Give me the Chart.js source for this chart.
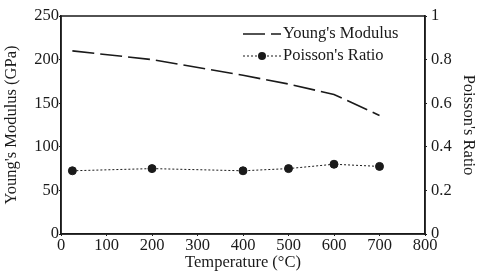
<!DOCTYPE html>
<html>
<head>
<meta charset="utf-8">
<script src="https://cdn.jsdelivr.net/npm/chart.js@4"></script>
<style>
  html, body { margin: 0; padding: 0; background: #fff; }
  #wrap { width: 478px; height: 275px; }
</style>
</head>
<body>
<div id="wrap"><canvas id="chart" width="478" height="275"></canvas></div>
<script>
// values
const temps = [25, 200, 400, 500, 600, 700];
const youngs = [210, 200, 182, 172, 160, 136];
const poisson = [0.29, 0.30, 0.29, 0.30, 0.32, 0.31];
const xTicks = [0, 100, 200, 300, 400, 500, 600, 700, 800];

const ink = '#1a1a1a';
const serif = '"Liberation Serif", "DejaVu Serif", serif';

// legend drawn inside the plot, top right
const innerLegend = {
  id: 'innerLegend',
  afterDatasetsDraw(chart) {
    const ctx = chart.ctx;
    const a = chart.chartArea;
    ctx.save();
    ctx.font = '16.5px ' + serif;
    ctx.fillStyle = ink;
    ctx.textBaseline = 'middle';
    chart.data.datasets.forEach((ds, i) => {
      const y = a.top + 18 + i * 22;
      const x0 = a.right - 182;
      ctx.strokeStyle = ink;
      ctx.lineWidth = ds.borderWidth;
      ctx.setLineDash(ds.borderDash || []);
      ctx.beginPath();
      ctx.moveTo(x0, y);
      ctx.lineTo(x0 + 38, y);
      ctx.stroke();
      ctx.setLineDash([]);
      if (ds.pointRadius > 0) {
        ctx.beginPath();
        ctx.arc(x0 + 19, y, ds.pointRadius, 0, Math.PI * 2);
        ctx.fill();
      }
      ctx.fillText(ds.label, x0 + 40, y);
    });
    // frame around the plot
    ctx.strokeStyle = ink;
    ctx.lineWidth = 1.5;
    ctx.strokeRect(a.left, a.top, a.right - a.left, a.bottom - a.top);
    ctx.restore();
  }
};

new Chart(document.getElementById('chart'), {
  type: 'line',
  data: {
    datasets: [
      {
        label: "Young's Modulus",
        data: temps.map((t, i) => ({ x: t, y: youngs[i] })),
        yAxisID: 'y',
        borderColor: ink,
        borderWidth: 1.6,
        borderDash: [22, 6],
        pointRadius: 0,
        tension: 0
      },
      {
        label: "Poisson's Ratio",
        data: temps.map((t, i) => ({ x: t, y: poisson[i] })),
        yAxisID: 'y1',
        borderColor: ink,
        backgroundColor: ink,
        borderWidth: 1,
        borderDash: [2, 2],
        pointRadius: 4,
        pointBackgroundColor: ink,
        tension: 0
      }
    ]
  },
  plugins: [innerLegend],
  options: {
    responsive: false,
    animation: false,
    layout: { padding: { top: 16, left: 0, right: 0, bottom: 0 } },
    plugins: { legend: { display: false }, tooltip: { enabled: false } },
    scales: {
      x: {
        type: 'linear',
        min: 0,
        max: 800,
        afterBuildTicks: s => { s.ticks = xTicks.map(v => ({ value: v })); },
        afterFit: s => { s.height = 41; },
        grid: { drawOnChartArea: false, color: ink, tickLength: 2 },
        border: { color: ink, width: 1.5 },
        ticks: { color: ink, font: { family: serif, size: 16.5 }, padding: 0, maxRotation: 0 },
        title: { display: true, text: 'Temperature (°C)', color: ink, font: { family: serif, size: 16.5 }, padding: { top: 0, bottom: 2 } }
      },
      y: {
        position: 'left',
        min: 0,
        max: 250,
        afterFit: s => { s.width = 61; },
        grid: { drawOnChartArea: false, color: ink, tickLength: 2 },
        border: { color: ink, width: 1.5 },
        ticks: { stepSize: 50, color: ink, font: { family: serif, size: 16.5 }, padding: 0 },
        title: { display: true, text: "Young's Modulus (GPa)", color: ink, font: { family: serif, size: 16.5 }, padding: { top: 2, bottom: 0 } }
      },
      y1: {
        position: 'right',
        min: 0,
        max: 1,
        afterFit: s => { s.width = 53; },
        grid: { drawOnChartArea: false, color: ink, tickLength: 2 },
        border: { color: ink, width: 1.5 },
        ticks: { stepSize: 0.2, color: ink, font: { family: serif, size: 16.5 }, padding: 4,
                 callback: v => (Math.round(v * 10) / 10).toString() },
        title: { display: true, text: "Poisson's Ratio", color: ink, font: { family: serif, size: 16.5 }, padding: 0 }
      }
    }
  }
});
</script>
</body>
</html>
